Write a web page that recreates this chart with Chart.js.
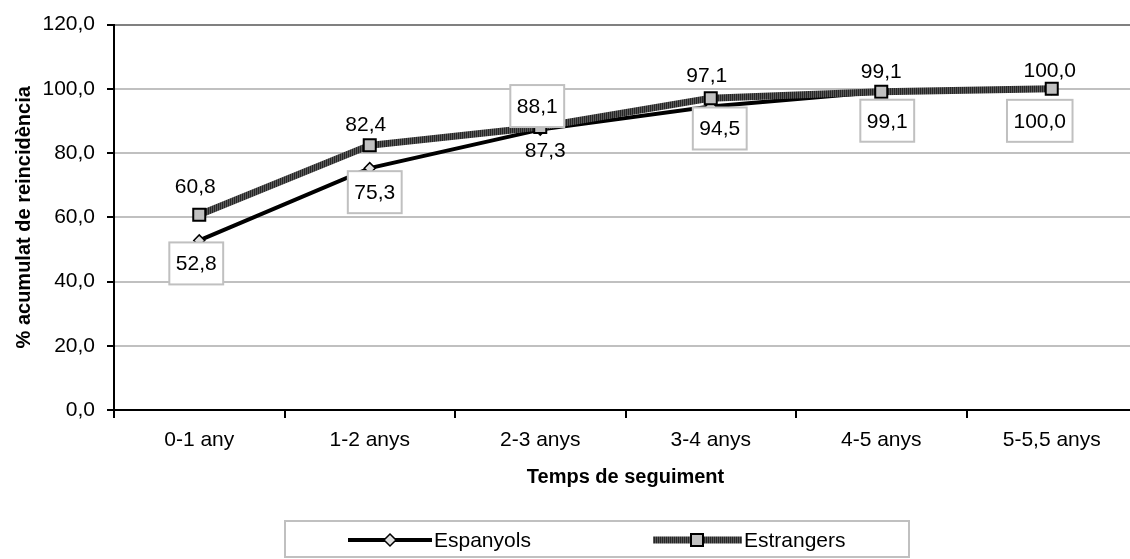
<!DOCTYPE html>
<html>
<head>
<meta charset="utf-8">
<script src="https://cdn.jsdelivr.net/npm/chart.js@4.4.1/dist/chart.umd.min.js"></script>
<style>
  html, body { margin: 0; padding: 0; overflow: hidden; background: #fff; }
  #wrap { position: relative; width: 1150px; height: 559px; }
</style>
</head>
<body>
<div id="wrap"><canvas id="c"></canvas></div>
<script>
// ---- Data ----
const categories = ['0-1 any', '1-2 anys', '2-3 anys', '3-4 anys', '4-5 anys', '5-5,5 anys'];
const espanyols = [52.8, 75.3, 87.3, 94.5, 99.1, 100.0];
const estrangers = [60.8, 82.4, 88.1, 97.1, 99.1, 100.0];
const seriesNames = ['Espanyols', 'Estrangers'];
const yTitle = '% acumulat de reincidència';
const xTitle = 'Temps de seguiment';

// ---- Label layout (offsets from point, boxed flag) ----
const espLabelDx = [-3, 5, 5, 9, 6, -12];
const espLabelDy = [23, 24, 21, 22, 29, 32];
const espLabelBoxed = [true, true, false, true, true, true];
const estLabelDx = [-4, -4, -3, -4, 0, -2];
const estLabelDy = [-29, -21, -21, -23, -21, -19];
const estLabelBoxed = [false, false, true, false, false, false];

const FONT = '"Liberation Sans", Arial, sans-serif';
const FS = 21;
const fmt = v => v.toFixed(1).replace('.', ',');

function stripePattern() {
  const c = document.createElement('canvas');
  c.width = 2; c.height = 2;
  const g = c.getContext('2d');
  g.fillStyle = '#262626'; g.fillRect(0, 0, 1, 2);
  g.fillStyle = '#5a5a5a'; g.fillRect(1, 0, 1, 2);
  return g.createPattern(c, 'repeat');
}
const ctx0 = document.getElementById('c').getContext('2d');
const pat = stripePattern();

const labelPlugin = {
  id: 'labels',
  afterDatasetsDraw(chart) {
    const ctx = chart.ctx;
    ctx.save();
    ctx.font = FS + 'px ' + FONT;
    ctx.textAlign = 'center';
    ctx.textBaseline = 'middle';
    const cfgs = [
      { vals: espanyols, dx: espLabelDx, dy: espLabelDy, boxed: espLabelBoxed },
      { vals: estrangers, dx: estLabelDx, dy: estLabelDy, boxed: estLabelBoxed }
    ];
    cfgs.forEach((cfg, di) => {
      const meta = chart.getDatasetMeta(di);
      meta.data.forEach((pt, j) => {
        const txt = fmt(cfg.vals[j]);
        const x = pt.x + cfg.dx[j];
        const y = pt.y + cfg.dy[j];
        if (cfg.boxed[j]) {
          const w = ctx.measureText(txt).width + 13;
          const h = 42;
          ctx.fillStyle = '#fff';
          ctx.fillRect(x - w / 2, y - h / 2, w, h);
          ctx.strokeStyle = '#c0c0c0';
          ctx.lineWidth = 2;
          ctx.strokeRect(x - w / 2, y - h / 2, w, h);
        }
        ctx.fillStyle = '#000';
        ctx.fillText(txt, x, y + 1);
      });
    });
    ctx.restore();
  }
};

const legendPlugin = {
  id: 'customLegend',
  afterDraw(chart) {
    const ctx = chart.ctx;
    ctx.save();
    ctx.strokeStyle = '#c0c0c0';
    ctx.lineWidth = 2;
    ctx.strokeRect(285, 521, 624, 36);
    const ly = 540;
    // Espanyols
    ctx.strokeStyle = '#000';
    ctx.lineWidth = 4;
    ctx.beginPath(); ctx.moveTo(348, ly); ctx.lineTo(432, ly); ctx.stroke();
    ctx.fillStyle = '#e0e0e0'; ctx.strokeStyle = '#000'; ctx.lineWidth = 1.5;
    ctx.beginPath();
    ctx.moveTo(390, ly - 6); ctx.lineTo(396, ly); ctx.lineTo(390, ly + 6); ctx.lineTo(384, ly); ctx.closePath();
    ctx.fill(); ctx.stroke();
    // Estrangers
    ctx.strokeStyle = pat;
    ctx.lineWidth = 7;
    ctx.beginPath(); ctx.moveTo(653, ly); ctx.lineTo(742, ly); ctx.stroke();
    ctx.fillStyle = '#c0c0c0'; ctx.strokeStyle = '#000'; ctx.lineWidth = 2;
    ctx.fillRect(691, ly - 6, 12, 12); ctx.strokeRect(691, ly - 6, 12, 12);
    ctx.fillStyle = '#000';
    ctx.font = FS + 'px ' + FONT;
    ctx.textAlign = 'left'; ctx.textBaseline = 'middle';
    ctx.fillText(seriesNames[0], 434, ly + 1);
    ctx.fillText(seriesNames[1], 744, ly + 1);
    ctx.restore();
  }
};

new Chart(ctx0, {
  type: 'line',
  data: {
    labels: categories,
    datasets: [
      {
        label: seriesNames[0], data: espanyols, order: 2,
        borderColor: '#000', borderWidth: 4, tension: 0,
        pointStyle: 'rectRot', pointRadius: 5.5, pointHoverRadius: 5.5,
        pointBackgroundColor: '#e0e0e0', pointBorderColor: '#000', pointBorderWidth: 1.5
      },
      {
        label: seriesNames[1], data: estrangers, order: 1,
        borderColor: pat, borderWidth: 7, tension: 0,
        pointStyle: 'rect', pointRadius: 8.5, pointHoverRadius: 8.5,
        pointBackgroundColor: '#c0c0c0', pointBorderColor: '#000', pointBorderWidth: 2
      }
    ]
  },
  options: {
    responsive: true, maintainAspectRatio: false, animation: false,
    layout: { padding: { left: 0, top: 24, right: 13, bottom: 0 } },
    plugins: { legend: { display: false }, tooltip: { enabled: false } },
    scales: {
      x: {
        offset: true,
        grid: { drawOnChartArea: false, drawTicks: true, tickLength: 8, tickColor: '#000', lineWidth: 2, offset: true },
        border: { color: '#000', width: 2 },
        ticks: { font: { family: FONT, size: FS }, color: '#000', padding: 10, maxRotation: 0, autoSkip: false },
        title: { display: true, text: xTitle, font: { family: FONT, size: 20, weight: 'bold' }, color: '#000', padding: { top: 0, bottom: 70 } },
        afterFit: s => { s.height = 149; }
      },
      y: {
        min: 0, max: 120,
        ticks: { stepSize: 20, font: { family: FONT, size: FS }, color: '#000', padding: 12, callback: v => fmt(v) },
        grid: {
          color: c => (c.tick && c.tick.value === 120 ? '#808080' : '#c0c0c0'),
          lineWidth: 2, tickLength: 7, tickColor: '#000'
        },
        border: { color: '#000', width: 2 },
        title: { display: true, text: yTitle, font: { family: FONT, size: 20, weight: 'bold' }, color: '#000', padding: { top: 12, bottom: 0 } },
        afterFit: s => { s.width = 114; }
      }
    }
  },
  plugins: [labelPlugin, legendPlugin]
});
</script>
</body>
</html>
